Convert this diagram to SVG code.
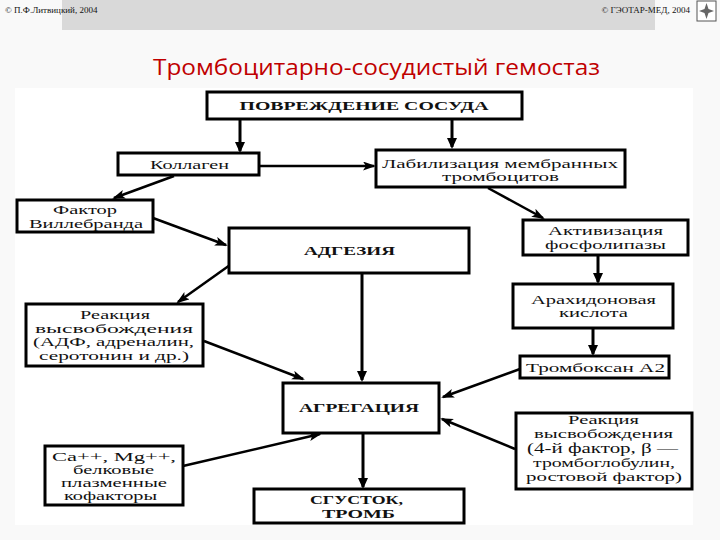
<svg xmlns="http://www.w3.org/2000/svg" width="720" height="540" viewBox="0 0 720 540">
<style>
.box{fill:#fff;stroke:#000;stroke-width:3}
.t{font-family:"Liberation Serif","DejaVu Serif",serif;font-size:12px;text-anchor:middle;fill:#111}
.b{font-weight:bold;font-size:13px}
.hd{font-family:"Liberation Serif",serif;font-size:9px;fill:#111}
.c{stroke:#000;fill:none}
.v{stroke-width:3;marker-end:url(#ah)}
.d{stroke-width:2.5;marker-end:url(#ah2)}
</style>
<defs>
<marker id="ah" markerUnits="userSpaceOnUse" markerWidth="12" markerHeight="12" refX="9" refY="5" orient="auto">
<path d="M0,0 L11,5 L0,10 z" fill="#000"/>
</marker>
<marker id="ah2" markerUnits="userSpaceOnUse" markerWidth="14" markerHeight="12" refX="11" refY="4.5" orient="auto">
<path d="M0,0 L13,4.5 L0,9 L3,4.5 z" fill="#000"/>
</marker>
</defs>
<rect x="0" y="0" width="720" height="540" fill="#f9f9f9"/>
<rect x="62" y="0" width="593" height="30" fill="#d9d9d9"/>
<text class="hd" x="5" y="13">© П.Ф.Литвицкий, 2004</text>
<text class="hd" x="690" y="13" text-anchor="end">© ГЭОТАР-МЕД, 2004</text>
<g id="icon">
<rect x="697" y="1" width="19" height="20" fill="#fff" stroke="#555" stroke-width="1"/>
<polygon points="706.5,3 708.5,9 714,11 708.5,13 706.5,19 704.5,13 699,11 704.5,9" fill="#666"/>
</g>
<text x="376.5" y="75" font-family="'Open Sans','Noto Sans',sans-serif" font-size="22" fill="#c00000" text-anchor="middle" textLength="447" lengthAdjust="spacingAndGlyphs">Тромбоцитарно-сосудистый гемостаз</text>
<rect x="15" y="88" width="678" height="437" fill="#fff"/>

<g id="connectors">
<line class="c v" x1="240" y1="119" x2="240" y2="151"/>
<line class="c v" x1="452" y1="119" x2="452" y2="147"/>
<line class="c d" x1="259" y1="166" x2="374" y2="166"/>
<line class="c d" x1="174" y1="176" x2="114" y2="198"/>
<line class="c d" x1="153" y1="218" x2="226" y2="245"/>
<line class="c d" x1="488" y1="188" x2="543" y2="218"/>
<line class="c v" x1="598" y1="255" x2="598" y2="282"/>
<line class="c v" x1="593" y1="328" x2="593" y2="354"/>
<line class="c d" x1="230" y1="265" x2="178" y2="302"/>
<line class="c d" x1="204" y1="341" x2="303" y2="379"/>
<line class="c v" x1="362" y1="273" x2="362" y2="380"/>
<line class="c d" x1="520" y1="369" x2="443" y2="397"/>
<line class="c d" x1="515" y1="449" x2="442" y2="419"/>
<line class="c d" x1="183" y1="466" x2="320" y2="434"/>
<line class="c v" x1="363" y1="434" x2="363" y2="487"/>
</g>

<g id="n-povr">
<rect class="box" x="207" y="92" width="315" height="27"/>
<text class="t b" x="364" y="110" textLength="249" lengthAdjust="spacingAndGlyphs">ПОВРЕЖДЕНИЕ СОСУДА</text>
</g>
<g id="n-kollagen">
<rect class="box" x="118" y="153" width="141" height="22"/>
<text class="t" x="189.5" y="168.5" textLength="79" lengthAdjust="spacingAndGlyphs">Коллаген</text>
</g>
<g id="n-labil">
<rect class="box" x="376" y="150" width="249" height="37"/>
<text class="t" x="500" y="168" textLength="236" lengthAdjust="spacingAndGlyphs">Лабилизация мембранных</text>
<text class="t" x="500.5" y="181" textLength="117" lengthAdjust="spacingAndGlyphs">тромбоцитов</text>
</g>
<g id="n-faktor">
<rect class="box" x="17" y="200" width="136" height="32"/>
<text class="t" x="85" y="214" textLength="64" lengthAdjust="spacingAndGlyphs">Фактор</text>
<text class="t" x="86" y="227.5" textLength="114" lengthAdjust="spacingAndGlyphs">Виллебранда</text>
</g>
<g id="n-adgeziya">
<rect class="box" x="229" y="228" width="240" height="45"/>
<text class="t b" x="349.5" y="254.5" textLength="91" lengthAdjust="spacingAndGlyphs">АДГЕЗИЯ</text>
</g>
<g id="n-aktiv">
<rect class="box" x="523" y="220" width="165" height="35"/>
<text class="t" x="605.5" y="234.5" textLength="115" lengthAdjust="spacingAndGlyphs">Активизация</text>
<text class="t" x="605.5" y="248.5" textLength="121" lengthAdjust="spacingAndGlyphs">фосфолипазы</text>
</g>
<g id="n-reakc1">
<rect class="box" x="26" y="304" width="177" height="62"/>
<text class="t" x="115" y="319" textLength="70" lengthAdjust="spacingAndGlyphs">Реакция</text>
<text class="t" x="114" y="333" textLength="158" lengthAdjust="spacingAndGlyphs">высвобождения</text>
<text class="t" x="113.5" y="346" textLength="161" lengthAdjust="spacingAndGlyphs">(АДФ, адреналин,</text>
<text class="t" x="114" y="359.5" textLength="150" lengthAdjust="spacingAndGlyphs">серотонин и др.)</text>
</g>
<g id="n-arah">
<rect class="box" x="513" y="284" width="160" height="44"/>
<text class="t" x="593.5" y="303.5" textLength="125" lengthAdjust="spacingAndGlyphs">Арахидоновая</text>
<text class="t" x="593.5" y="317" textLength="69" lengthAdjust="spacingAndGlyphs">кислота</text>
</g>
<g id="n-tromboks">
<rect class="box" x="520" y="356" width="149" height="22"/>
<text class="t" x="595.5" y="372" textLength="139" lengthAdjust="spacingAndGlyphs" style="font-size:13px">Тромбоксан А2</text>
</g>
<g id="n-agreg">
<rect class="box" x="283" y="383" width="156" height="50"/>
<text class="t b" x="359" y="411.5" textLength="120" lengthAdjust="spacingAndGlyphs">АГРЕГАЦИЯ</text>
</g>
<g id="n-ca">
<rect class="box" x="45" y="446" width="138" height="59"/>
<text class="t" x="114" y="460.5" textLength="124" lengthAdjust="spacingAndGlyphs">Ca++, Mg++,</text>
<text class="t" x="113.5" y="473.5" textLength="81" lengthAdjust="spacingAndGlyphs">белковые</text>
<text class="t" x="114" y="486.5" textLength="106" lengthAdjust="spacingAndGlyphs">плазменные</text>
<text class="t" x="110.5" y="499.5" textLength="93" lengthAdjust="spacingAndGlyphs">кофакторы</text>
</g>
<g id="n-reakc2">
<rect class="box" x="516" y="413" width="176" height="76"/>
<text class="t" x="603.5" y="423.5" textLength="71" lengthAdjust="spacingAndGlyphs">Реакция</text>
<text class="t" x="603.5" y="437.5" textLength="139" lengthAdjust="spacingAndGlyphs">высвобождения</text>
<text class="t" x="602.5" y="453" textLength="151" lengthAdjust="spacingAndGlyphs" style="font-size:14px">(4-й фактор, β —</text>
<text class="t" x="604" y="467" textLength="142" lengthAdjust="spacingAndGlyphs">тромбоглобулин,</text>
<text class="t" x="604" y="480.5" textLength="156" lengthAdjust="spacingAndGlyphs">ростовой фактор)</text>
</g>
<g id="n-sgustok">
<rect class="box" x="254" y="489" width="210" height="34"/>
<text class="t b" x="356.5" y="503.5" textLength="93" lengthAdjust="spacingAndGlyphs">СГУСТОК,</text>
<text class="t b" x="358.5" y="517.5" textLength="73" lengthAdjust="spacingAndGlyphs">ТРОМБ</text>
</g>
</svg>
